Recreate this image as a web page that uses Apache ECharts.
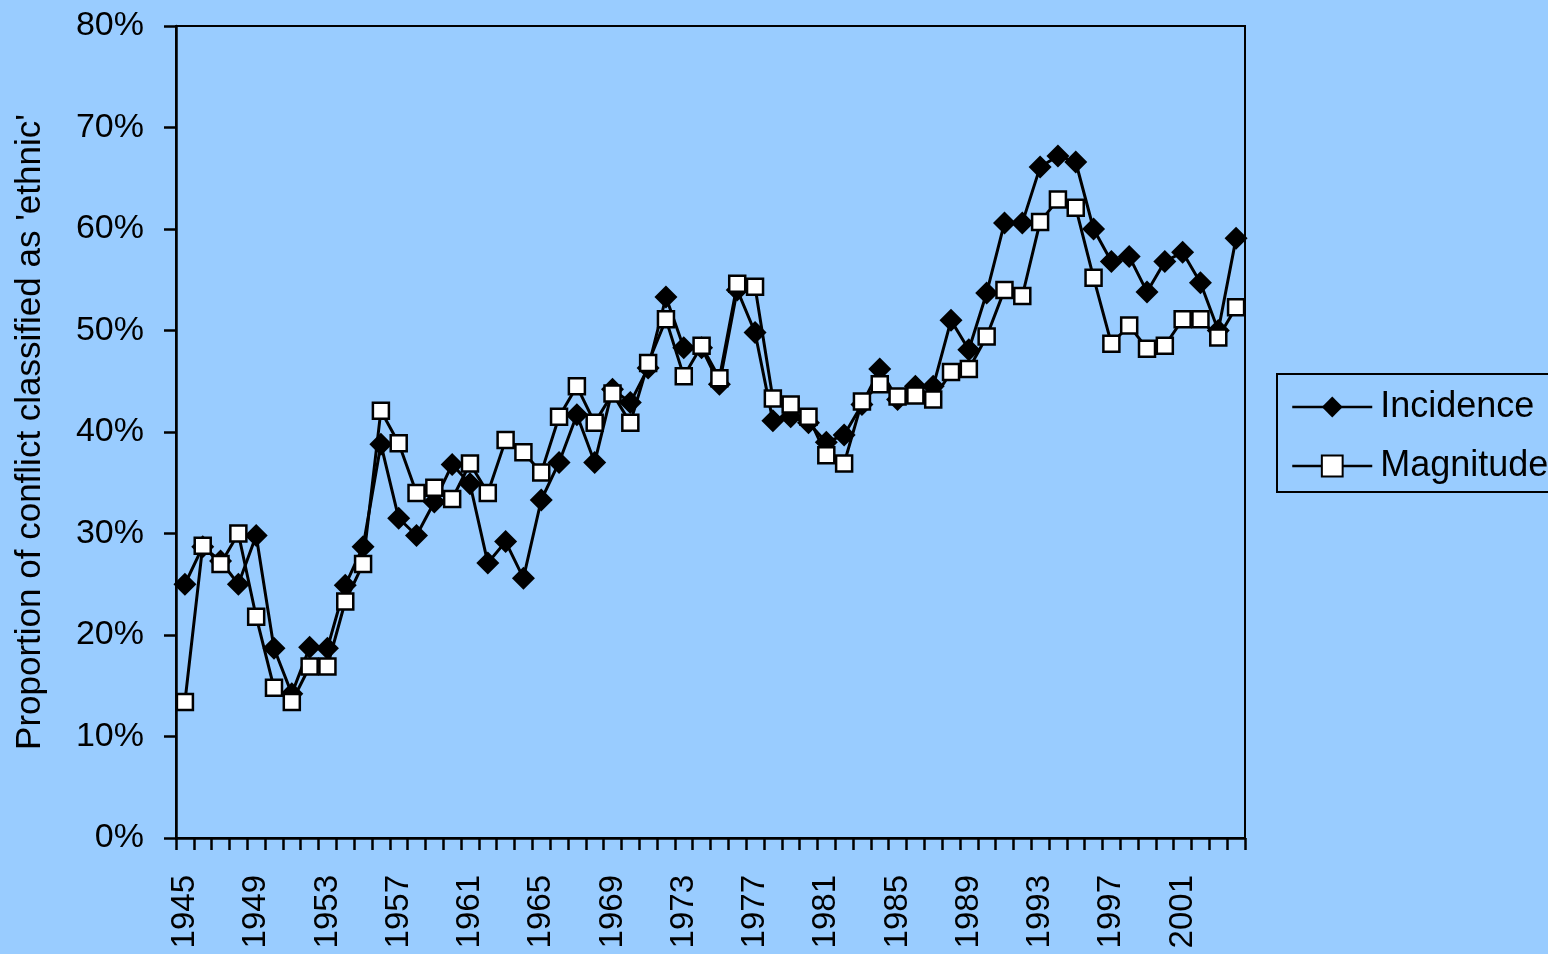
<!DOCTYPE html>
<html>
<head>
<meta charset="utf-8">
<script src="https://cdn.jsdelivr.net/npm/echarts@6/dist/echarts.min.js"></script>
<style>
  html, body { margin: 0; padding: 0; background: #99ccff; }
  #chart { width: 1548px; height: 954px; }
</style>
</head>
<body>
<div id="chart"></div>
<script>
// years 1945 - 2004
const years = []
for (let y = 1945; y <= 2004; y++) years.push(String(y))

const incidence = [
  25.0, 28.7, 27.3, 25.0, 29.8, 18.7, 14.2, 18.8, 18.7, 24.9,
  28.7, 38.8, 31.5, 29.8, 33.1, 36.8, 34.9, 27.1, 29.2, 25.6,
  33.3, 37.0, 41.7, 37.0, 44.2, 42.9, 46.3, 53.3, 48.3, 48.3,
  44.7, 54.0, 49.8, 41.1, 41.5, 40.9, 39.0, 39.7, 42.7, 46.2,
  43.2, 44.5, 44.5, 51.0, 48.1, 53.7, 60.6, 60.6, 66.1, 67.2,
  66.6, 60.0, 56.8, 57.3, 53.8, 56.8, 57.7, 54.7, 50.0, 59.1
]

const magnitude = [
  13.4, 28.8, 27.0, 30.0, 21.8, 14.8, 13.4, 16.9, 16.9, 23.3,
  27.0, 42.1, 38.9, 34.0, 34.5, 33.4, 36.9, 34.0, 39.2, 38.0,
  36.0, 41.5, 44.5, 40.9, 43.8, 40.9, 46.8, 51.1, 45.5, 48.5,
  45.3, 54.6, 54.3, 43.3, 42.7, 41.5, 37.7, 36.9, 43.0, 44.7,
  43.5, 43.6, 43.2, 45.9, 46.2, 49.4, 54.0, 53.4, 60.7, 62.9,
  62.1, 55.2, 48.7, 50.5, 48.2, 48.5, 51.1, 51.1, 49.3, 52.3
]

const yTicks = [0, 10, 20, 30, 40, 50, 60, 70, 80]

const fontFamily = '"Liberation Sans", Arial, sans-serif'

const chart = echarts.init(document.getElementById('chart'))

chart.setOption({
  backgroundColor: '#99ccff',
  animation: false,
  textStyle: { fontFamily: fontFamily, color: '#000' },
  grid: {
    left: 176,
    right: 303,
    top: 26,
    bottom: 116,
    show: true,
    borderColor: '#000',
    borderWidth: 2,
    backgroundColor: 'transparent'
  },
  legend: {
    orient: 'vertical',
    left: 1277,
    top: 374,
    padding: [12, 20, 5, 14],
    itemGap: 17,
    itemWidth: 80,
    itemHeight: 26,
    borderColor: '#000',
    borderWidth: 2,
    lineStyle: { width: 2.5, color: '#000' },
    textStyle: { fontSize: 36, color: '#000', lineHeight: 42, padding: [0, 0, 0, 3], fontFamily: fontFamily },
    data: ['Incidence', 'Magnitude']
  },
  xAxis: {
    type: 'category',
    data: years,
    boundaryGap: true,
    axisLine: { lineStyle: { color: '#000', width: 2.5 } },
    axisTick: { show: true, interval: 0, length: 12, lineStyle: { color: '#000', width: 2.5 } },
    axisLabel: {
      interval: 3,
      rotate: 90,
      margin: 37,
      fontSize: 33,
      color: '#000',
      fontFamily: fontFamily
    },
    splitLine: { show: false }
  },
  yAxis: {
    type: 'value',
    min: yTicks[0],
    max: yTicks[yTicks.length - 1],
    interval: 10,
    name: "Proportion of conflict classified as 'ethnic'",
    nameLocation: 'middle',
    nameGap: 128,
    nameTextStyle: { fontSize: 35, color: '#000', fontFamily: fontFamily },
    axisLine: { show: true, lineStyle: { color: '#000', width: 2.5 } },
    axisTick: { show: true, length: 12, lineStyle: { color: '#000', width: 2.5 } },
    axisLabel: {
      formatter: '{value}%',
      margin: 32,
      fontSize: 34,
      color: '#000',
      fontFamily: fontFamily
    },
    splitLine: { show: false }
  },
  series: [
    {
      name: 'Incidence',
      type: 'line',
      data: incidence,
      symbol: 'diamond',
      symbolSize: 23,
      showAllSymbol: true,
      lineStyle: { color: '#000', width: 3 },
      itemStyle: { color: '#000', borderColor: '#000', borderWidth: 0 }
    },
    {
      name: 'Magnitude',
      type: 'line',
      data: magnitude,
      symbol: 'rect',
      symbolSize: 16,
      showAllSymbol: true,
      lineStyle: { color: '#000', width: 3 },
      itemStyle: { color: '#fff', borderColor: '#000', borderWidth: 2.5 }
    }
  ]
})

window.addEventListener('resize', () => chart.resize())
</script>
</body>
</html>
